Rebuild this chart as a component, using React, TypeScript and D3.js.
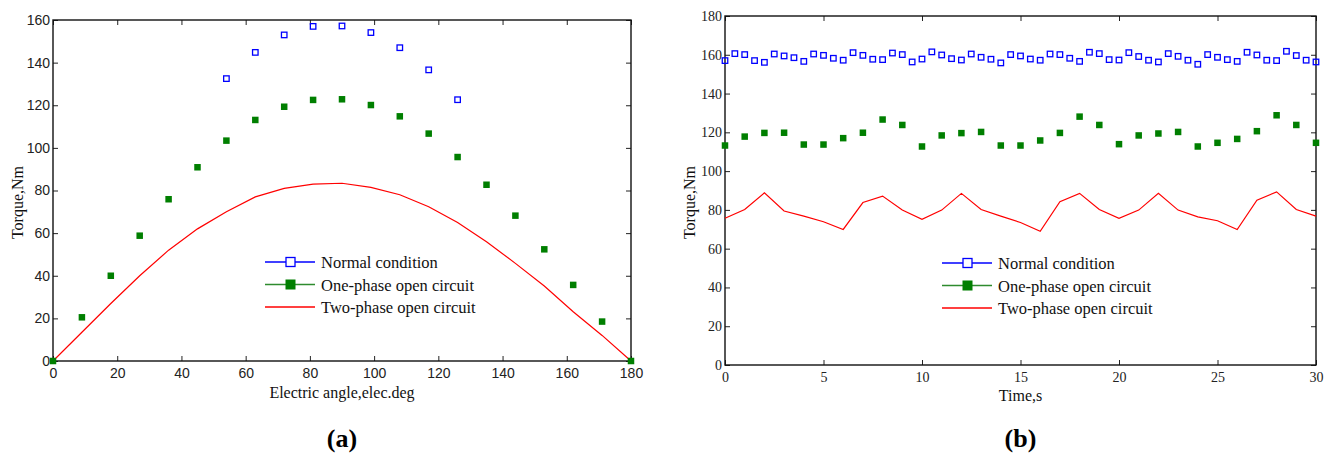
import React, { useEffect, useRef } from 'react';
import * as d3 from 'd3';

// ---- panel (a): torque vs electric angle ----
const normalAngles = [54, 63, 72, 81, 90, 99, 108, 117, 126];
const normalTorqueA = [132.5, 144.8, 153, 157, 157.2, 154.1, 147, 136.6, 122.6];

const angles = [0, 9, 18, 27, 36, 45, 54, 63, 72, 81, 90, 99, 108, 117, 126, 135, 144, 153, 162, 171, 180];
const onePhaseA = [0, 20.5, 40, 58.8, 75.9, 90.9, 103.4, 113.1, 119.3, 122.5, 122.8, 120.1, 114.8, 106.7, 95.7, 82.7, 68.2, 52.4, 35.7, 18.5, 0];
const twoPhaseA = [0, 13.5, 27, 40, 52, 62, 70, 77, 81, 83, 83.4, 81.5, 78, 72.4, 65, 56, 45.8, 35.2, 23.1, 12, 0];

// ---- panel (b): torque vs time ----
const timeHalf = [0, 0.5, 1, 1.5, 2, 2.5, 3, 3.5, 4, 4.5, 5, 5.5, 6, 6.5, 7, 7.5, 8, 8.5, 9, 9.5, 10, 10.5, 11, 11.5, 12, 12.5, 13, 13.5, 14, 14.5, 15, 15.5, 16, 16.5, 17, 17.5, 18, 18.5, 19, 19.5, 20, 20.5, 21, 21.5, 22, 22.5, 23, 23.5, 24, 24.5, 25, 25.5, 26, 26.5, 27, 27.5, 28, 28.5, 29, 29.5, 30];
const normalTorqueB = [157, 160.6, 160.1, 157, 156.1, 160.4, 159.4, 158.5, 156.6, 160.4, 159.7, 158.2, 157.2, 161.1, 159.7, 157.7, 157.5, 160.9, 160.1, 156.3, 157.8, 161.5, 159.9, 158, 157.3, 160.4, 158.7, 157.7, 155.8, 160.1, 159.4, 157.8, 157.2, 160.4, 160.1, 158.2, 156.6, 161.3, 160.6, 157.5, 157.3, 161.1, 159.1, 157.2, 156.3, 160.6, 159.2, 157.2, 155.1, 160.1, 158.7, 157.5, 156.6, 161.3, 159.9, 157.2, 157, 161.8, 159.6, 157.2, 156.3];

const timeSec = [0, 1, 2, 3, 4, 5, 6, 7, 8, 9, 10, 11, 12, 13, 14, 15, 16, 17, 18, 19, 20, 21, 22, 23, 24, 25, 26, 27, 28, 29, 30];
const onePhaseB = [113.2, 117.8, 119.7, 119.8, 113.7, 113.7, 117, 119.8, 126.6, 123.8, 112.7, 118.4, 119.6, 120.2, 113.2, 113.2, 115.8, 119.7, 128.1, 123.8, 113.9, 118.4, 119.4, 120.2, 112.7, 114.6, 116.6, 120.6, 128.8, 123.8, 114.6];
const twoPhaseB = [75.7, 80.2, 88.8, 79.4, 76.8, 73.9, 69.9, 83.8, 87.1, 79.9, 75.1, 79.9, 88.5, 80.2, 76.8, 73.5, 69, 84.2, 88.5, 80.2, 75.6, 79.9, 88.5, 79.9, 76.4, 74.4, 69.9, 85, 89.3, 80.2, 76.8];

const legendLabels = ['Normal condition', 'One-phase open circuit', 'Two-phase open circuit'];
const ticksA_x = [0, 20, 40, 60, 80, 100, 120, 140, 160, 180];
const ticksA_y = [0, 20, 40, 60, 80, 100, 120, 140, 160];
const ticksB_x = [0, 5, 10, 15, 20, 25, 30];
const ticksB_y = [0, 20, 40, 60, 80, 100, 120, 140, 160, 180];

const SERIF = '"Liberation Serif", "Times New Roman", serif';
const SANS = '"Liberation Sans", Arial, sans-serif';
const BLUE = '#0000ff';
const GREEN = '#007f00';
const RED = '#ff0000';

const App = () => {
    const svgRef = useRef(null);

    useEffect(() => {
        const svg = d3.select(svgRef.current);
        svg.selectAll('*').remove();

        const drawPanel = (p) => {
            const x = d3.scaleLinear().domain(p.xDomain).range([p.left, p.right]);
            const y = d3.scaleLinear().domain(p.yDomain).range([p.bottom, p.top]);
            const g = svg.append('g');

            // ticks (inward, on all four sides)
            const styleAxis = (sel) => {
                sel.select('.domain').remove();
                sel.selectAll('line').attr('stroke', '#222').attr('stroke-width', 1);
                sel.selectAll('text').attr('fill', '#222').style('font-family', p.tickFont).style('font-size', '14px');
            };
            g.append('g').attr('transform', `translate(0,${p.bottom})`)
                .call(d3.axisBottom(x).tickValues(p.xTicks).tickSizeInner(-5).tickSizeOuter(0).tickPadding(7).tickFormat(d3.format('d')))
                .call(styleAxis);
            g.append('g').attr('transform', `translate(${p.left},0)`)
                .call(d3.axisLeft(y).tickValues(p.yTicks).tickSizeInner(-5).tickSizeOuter(0).tickPadding(p.yPad).tickFormat(d3.format('d')))
                .call(styleAxis);
            g.append('g').attr('transform', `translate(0,${p.top})`)
                .call(d3.axisTop(x).tickValues(p.xTicks).tickSizeInner(-5).tickSizeOuter(0).tickFormat(() => ''))
                .call(styleAxis);
            g.append('g').attr('transform', `translate(${p.right},0)`)
                .call(d3.axisRight(y).tickValues(p.yTicks).tickSizeInner(-5).tickSizeOuter(0).tickFormat(() => ''))
                .call(styleAxis);

            // frame
            g.append('rect')
                .attr('x', p.left).attr('y', p.top)
                .attr('width', p.right - p.left).attr('height', p.bottom - p.top)
                .attr('fill', 'none').attr('stroke', '#111').attr('stroke-width', 1.4);

            // two-phase line
            const line = d3.line().x(d => x(d[0])).y(d => y(d[1]));
            g.append('path')
                .datum(p.redX.map((v, i) => [v, p.redY[i]]))
                .attr('d', line)
                .attr('fill', 'none').attr('stroke', RED).attr('stroke-width', 1.2);

            // one-phase markers (filled squares)
            const s = 6.5;
            g.selectAll('.one').data(p.greenX.map((v, i) => [v, p.greenY[i]])).enter().append('rect')
                .attr('x', d => x(d[0]) - s / 2).attr('y', d => y(d[1]) - s / 2)
                .attr('width', s).attr('height', s)
                .attr('fill', GREEN);

            // normal markers (hollow squares)
            const h = 5.5;
            g.selectAll('.norm').data(p.blueX.map((v, i) => [v, p.blueY[i]])).enter().append('rect')
                .attr('x', d => x(d[0]) - h / 2).attr('y', d => y(d[1]) - h / 2)
                .attr('width', h).attr('height', h)
                .attr('fill', 'none').attr('stroke', BLUE).attr('stroke-width', 1.3);

            // legend
            const lg = g.append('g');
            const colors = [BLUE, '#2e8b2e', RED];
            legendLabels.forEach((lab, i) => {
                const ly = p.legY + i * 22.5;
                lg.append('line')
                    .attr('x1', p.legX).attr('x2', p.legX + 50).attr('y1', ly).attr('y2', ly)
                    .attr('stroke', colors[i]).attr('stroke-width', 1.3);
                if (i === 0) {
                    lg.append('rect').attr('x', p.legX + 21).attr('y', ly - 4.5).attr('width', 9).attr('height', 9)
                        .attr('fill', '#fff').attr('stroke', BLUE).attr('stroke-width', 1.3);
                } else if (i === 1) {
                    lg.append('rect').attr('x', p.legX + 20.5).attr('y', ly - 5).attr('width', 10).attr('height', 10)
                        .attr('fill', GREEN);
                }
                lg.append('text')
                    .attr('x', p.legX + 56).attr('y', ly + 6)
                    .style('font-family', SERIF).style('font-size', '16.5px').attr('fill', '#111')
                    .text(lab);
            });

            // axis titles
            g.append('text')
                .attr('x', (p.left + p.right) / 2).attr('y', p.xLabY)
                .attr('text-anchor', 'middle')
                .style('font-family', SERIF).style('font-size', '16px').attr('fill', '#111')
                .text(p.xLabel);
            g.append('text')
                .attr('transform', `translate(${p.yLabX},${(p.top + p.bottom) / 2 + 12}) rotate(-90)`)
                .attr('text-anchor', 'middle')
                .style('font-family', SERIF).style('font-size', '16px').attr('fill', '#111')
                .text('Torque,Nm');
            g.append('text')
                .attr('x', (p.left + p.right) / 2).attr('y', 447)
                .attr('text-anchor', 'middle')
                .style('font-family', SERIF).style('font-size', '26px').style('font-weight', 'bold').attr('fill', '#000')
                .text(p.tag);
        };

        drawPanel({
            left: 53, right: 631, top: 20, bottom: 361,
            xDomain: [0, 180], yDomain: [0, 160],
            xTicks: ticksA_x, yTicks: ticksA_y, tickFont: SANS, yPad: 3,
            blueX: normalAngles, blueY: normalTorqueA,
            greenX: angles, greenY: onePhaseA,
            redX: angles, redY: twoPhaseA,
            legX: 265, legY: 262,
            xLabel: 'Electric angle,elec.deg', xLabY: 398, yLabX: 23, tag: '(a)'
        });

        drawPanel({
            left: 725, right: 1316, top: 16, bottom: 365,
            xDomain: [0, 30], yDomain: [0, 180],
            xTicks: ticksB_x, yTicks: ticksB_y, tickFont: SERIF, yPad: 3,
            blueX: timeHalf, blueY: normalTorqueB,
            greenX: timeSec, greenY: onePhaseB,
            redX: timeSec, redY: twoPhaseB,
            legX: 942, legY: 263,
            xLabel: 'Time,s', xLabY: 401, yLabX: 695, tag: '(b)'
        });
    }, []);

    return (
        <svg ref={svgRef} width={1335} height={457}
            style={{ position: 'absolute', left: 0, top: 0, background: '#fff' }} />
    );
};

export default App;
